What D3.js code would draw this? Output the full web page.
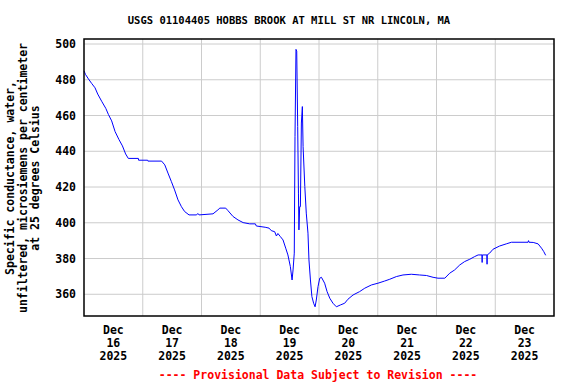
<!DOCTYPE html>
<html>
<head>
<meta charset="utf-8">
<script src="https://cdn.jsdelivr.net/npm/d3@7"></script>
<style>
  body { margin: 0; background: #fff; }
  text { font-family: "DejaVu Sans Mono", monospace; font-weight: bold; }
</style>
</head>
<body>
<div id="chart"></div>
<script>
// chart size and plot box
const width = 576;
const height = 384;
const margin = {left: 84, right: 22, top: 39, bottom: 68};

// data: hours after Dec 16 2025 00:00, and specific conductance
const hours = [0, 0.6, 1.8, 3.1, 4.5, 5.6, 7.2, 8.9, 10, 11.3, 12.7, 14.3, 15.7, 17, 18.1,
  22.2, 22.3, 26.0, 26.1, 31.7, 33, 34.3, 35.7, 37, 38.4, 39.8, 41.1, 42.9, 46, 46.5, 47,
  52.7, 54.7, 55.5, 57.9, 58.8, 60.9, 62.9, 65, 67.7, 70, 70.4, 74, 75.6, 76.5, 77.9, 78.6,
  79.2, 80.2, 81.3, 82.4, 83.3, 84.3, 85, 85.4, 85.9, 86.2, 86.6, 86.9, 87.3, 87.6, 87.8,
  88.1, 88.4, 88.8, 89.2, 89.5, 90.2, 90.8, 91.5, 91.9, 92.5, 93.1, 93.8, 94.4, 94.9, 95.6,
  96.3, 97, 98.3, 99.3, 100.4, 101.7, 103.1, 104.7, 106.5, 107.8, 109.9, 112.6, 114.7,
  117.4, 120.1, 122.8, 124.9, 127.6, 130.3, 133.7, 137.1, 139.9, 142.6, 144.6, 147.4,
  149.4, 151.4, 153.5, 155.5, 157.6, 159.6, 161, 162.6, 162.65, 162.7, 164.6, 164.65, 164.7,
  165.7, 167.1, 169.8, 172.5, 174.6, 181.4, 181.6, 181.8, 183.5, 185.5, 186.9, 187.8, 188.6];
const values = [485, 483, 480.5, 478, 475.5, 472, 468, 464, 460.5, 457, 451, 446.5, 443, 438.5, 436,
  436, 435, 435, 434.5, 434.5, 432.4, 427.8, 423, 418.4, 412.8, 409, 406.3, 404.4, 404.4, 405.2, 404.4,
  405, 407.2, 408.2, 408.2, 406.8, 403.5, 401.6, 400.1, 399.4, 399.4, 398.2, 397.5, 397, 395.6, 395, 392.6,
  394, 392.3, 390.4, 385.8, 382, 375.5, 368, 373.6, 383, 448.3, 497, 496, 453.9, 416.6, 396,
  409, 409, 455.8, 465, 442.6, 420.3, 405.4, 394.2, 379.2, 368, 358.7, 355, 353, 356.8, 364.3,
  369, 369.5, 366.2, 361.5, 357.8, 355, 353, 354, 355, 357.2, 359.6, 361.5, 363.4,
  365.2, 366.2, 367.4, 368.4, 369.9, 370.8, 371.2, 370.8, 370.5, 369.5, 369, 369,
  371.8, 373.6, 376.4, 378.3, 379.6, 381.1, 382, 382, 377.8, 382, 382, 376.8, 382,
  383, 385.2, 387, 388.2, 389.1, 389.1, 390, 389.1, 389, 388.2, 385.8, 383.9, 381.8];

const yTicks = [360, 380, 400, 420, 440, 460, 480, 500];
const dayLabels = ["16", "17", "18", "19", "20", "21", "22", "23"];

const start = new Date(2025, 11, 16);
const end = new Date(2025, 11, 24);
const data = hours.map((h, i) => ({t: new Date(start.getTime() + h * 3600000), v: values[i]}));

const svg = d3.select("#chart").append("svg")
  .attr("width", width)
  .attr("height", height);

const x = d3.scaleTime()
  .domain([start, end])
  .range([margin.left, width - margin.right]);

const y = d3.scaleLinear()
  .domain([347.85, 502.8])
  .range([height - margin.bottom, margin.top]);

// grid lines
const days = d3.timeDay.range(d3.timeDay.offset(start, 1), end);
svg.append("g")
  .selectAll("line")
  .data(days)
  .join("line")
    .attr("x1", d => x(d)).attr("x2", d => x(d))
    .attr("y1", margin.top).attr("y2", height - margin.bottom)
    .attr("stroke", "#cccccc");

svg.append("g")
  .selectAll("line")
  .data(yTicks)
  .join("line")
    .attr("x1", margin.left).attr("x2", width - margin.right)
    .attr("y1", d => y(d)).attr("y2", d => y(d))
    .attr("stroke", "#cccccc");

// y axis labels
svg.append("g")
  .selectAll("text")
  .data(yTicks)
  .join("text")
    .attr("x", 76)
    .attr("y", d => y(d))
    .attr("dy", "0.35em")
    .attr("text-anchor", "end")
    .attr("font-size", "11.5px")
    .text(d => d);

// x axis labels at noon of each day
const noons = d3.timeDay.range(start, end).map(d => d3.timeHour.offset(d, 12));
const xl = svg.append("g")
  .selectAll("text")
  .data(noons)
  .join("text")
    .attr("text-anchor", "middle")
    .attr("font-size", "11.5px");
xl.append("tspan").attr("x", d => x(d)).attr("y", 334).text("Dec");
xl.append("tspan").attr("x", d => x(d)).attr("y", 347).text((d, i) => dayLabels[i]);
xl.append("tspan").attr("x", d => x(d)).attr("y", 360).text("2025");

// data line
svg.append("path")
  .datum(data)
  .attr("fill", "none")
  .attr("stroke", "#0000ff")
  .attr("stroke-width", 1)
  .attr("d", d3.line().x(d => x(d.t)).y(d => y(d.v)));

// frame
svg.append("rect")
  .attr("x", margin.left).attr("y", margin.top)
  .attr("width", width - margin.left - margin.right)
  .attr("height", height - margin.top - margin.bottom)
  .attr("fill", "none")
  .attr("stroke", "#000")
  .attr("stroke-width", 1.5);

// title
svg.append("text")
  .attr("x", 289).attr("y", 20).attr("dy", "0.35em")
  .attr("text-anchor", "middle")
  .attr("font-size", "10.5px")
  .text("USGS 01104405 HOBBS BROOK AT MILL ST NR LINCOLN, MA");

// y axis title
const yTitle = ["Specific conductance, water,", "unfiltered, microsiemens per centimeter", "at 25 degrees Celsius"];
svg.append("g")
  .selectAll("text")
  .data(yTitle)
  .join("text")
    .attr("transform", (d, i) => `translate(${14 + i * 12.5}, 178) rotate(-90)`)
    .attr("text-anchor", "middle")
    .attr("font-size", "11.5px")
    .text(d => d);

// footer
svg.append("text")
  .attr("x", 318).attr("y", 375).attr("dy", "0.35em")
  .attr("text-anchor", "middle")
  .attr("font-size", "11.5px")
  .attr("fill", "#ff0000")
  .text("---- Provisional Data Subject to Revision ----");
</script>
</body>
</html>
